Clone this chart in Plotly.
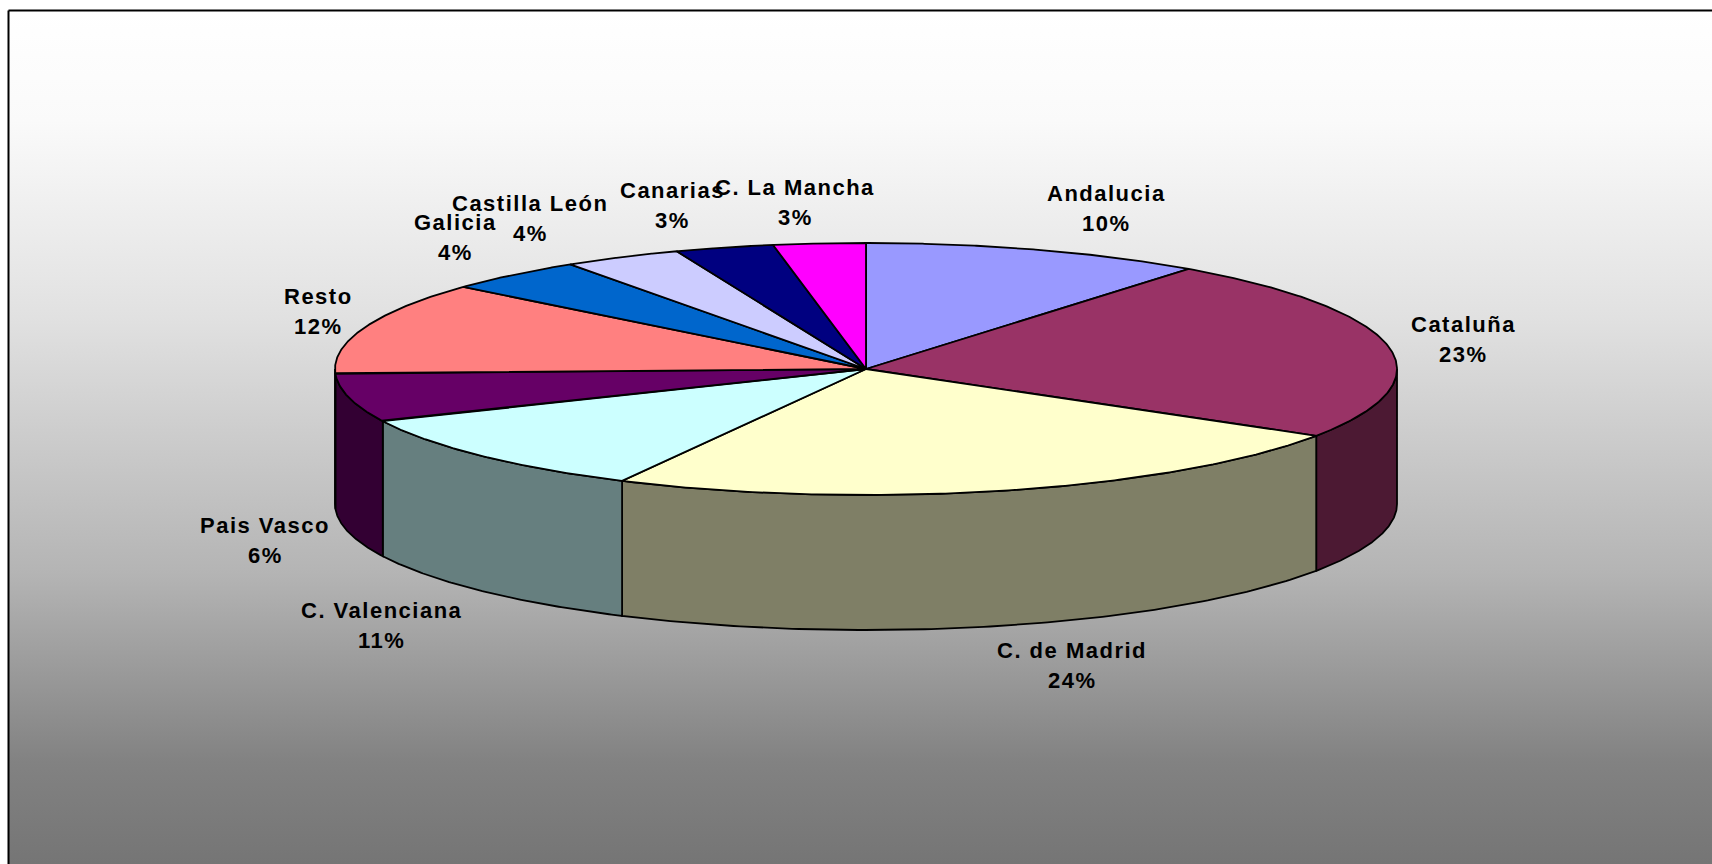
import numpy as np
import plotly.graph_objects as go

# ---------------- data ----------------
REGIONS = ["Andalucia", "Cataluña", "C. de Madrid", "C. Valenciana", "Pais Vasco",
           "Resto", "Galicia", "Castilla León", "Canarias", "C. La Mancha"]
VALUES = [10.4, 23.49, 23.7, 10.6, 6.2, 11.9, 4.3, 3.6, 3.0, 2.8]
COLORS = ["#9999FF", "#993366", "#FFFFCC", "#CCFFFF", "#660066",
          "#FF8080", "#0066CC", "#CCCCFF", "#000080", "#FF00FF"]

# ---------------- layout constants (pixels) ----------------
W, H = 1712, 864
CX, CY, RX, RY, DEPTH = 866, 369, 531, 126, 135
LABEL_POS = [(1106, 208), (1463, 339), (1072, 665), (381, 625), (265, 540),
             (318, 311), (455, 237), (530, 218), (672, 205), (795, 202)]
LINE_GAP = 15
FONT = dict(family="Liberation Sans, Arial, sans-serif", size=22, color="#000000", weight="bold")


def darker(hexc, f=0.5):
    h = hexc.lstrip("#")
    r, g, b = int(h[0:2], 16), int(h[2:4], 16), int(h[4:6], 16)
    return f"rgb({int(r * f)},{int(g * f)},{int(b * f)})"


total = float(sum(VALUES))
fracs = np.array(VALUES) / total
cum = np.concatenate([[0.0], np.cumsum(fracs)]) * 2 * np.pi

fig = go.Figure()

# background with vertical gradient and frame
fig.add_trace(go.Scatter(
    x=[8.5, W + 20, W + 20, 8.5, 8.5], y=[10.5, 10.5, H + 20, H + 20, 10.5],
    mode="lines", fill="toself", line=dict(color="#000000", width=2),
    fillgradient=dict(type="vertical", start=10, stop=H,
                      colorscale=[[0, "#ffffff"], [0.13, "#fafafa"], [0.36, "#e1e1e1"],
                                  [0.66, "#b4b4b4"], [0.88, "#828282"], [1, "#757575"]]),
    hoverinfo="skip", showlegend=False))

# side walls (visible front half: 90deg .. 270deg clockwise from top)
lo, hi = np.pi / 2, 3 * np.pi / 2
for i in range(len(VALUES)):
    s, e = max(cum[i], lo), min(cum[i + 1], hi)
    if e <= s:
        continue
    th = np.linspace(s, e, 120)
    xt = CX + RX * np.sin(th)
    yt = CY - RY * np.cos(th)
    xs = np.concatenate([xt, xt[::-1], xt[:1]])
    ys = np.concatenate([yt, yt[::-1] + DEPTH, yt[:1]])
    fig.add_trace(go.Scatter(x=xs, y=ys, mode="lines", fill="toself",
                             fillcolor=darker(COLORS[i]),
                             line=dict(color="#000000", width=1.8),
                             hoverinfo="skip", showlegend=False))

# top faces
for i in range(len(VALUES)):
    th = np.linspace(cum[i], cum[i + 1], 160)
    xt = CX + RX * np.sin(th)
    yt = CY - RY * np.cos(th)
    xs = np.concatenate([[CX], xt, [CX]])
    ys = np.concatenate([[CY], yt, [CY]])
    fig.add_trace(go.Scatter(x=xs, y=ys, mode="lines", fill="toself",
                             fillcolor=COLORS[i],
                             line=dict(color="#000000", width=1.8),
                             hoverinfo="skip", showlegend=False))

# labels
for i, name in enumerate(REGIONS):
    lx, ly = LABEL_POS[i]
    pct = f"{int(round(VALUES[i] / total * 100))}%"
    for txt, yy in ((name, ly - LINE_GAP), (pct, ly + LINE_GAP)):
        fig.add_annotation(x=lx, y=yy, xref="x", yref="y", showarrow=False,
                           text=f'<span style="letter-spacing:1.5px">{txt}</span>',
                           xanchor="center", yanchor="middle", font=FONT)

fig.update_layout(
    width=W, height=H, margin=dict(l=0, r=0, t=0, b=0),
    paper_bgcolor="#ffffff", plot_bgcolor="#ffffff",
    xaxis=dict(range=[0, W], visible=False, fixedrange=True),
    yaxis=dict(range=[H, 0], visible=False, fixedrange=True),
    showlegend=False,
)

fig.write_html("out.html", config={"displayModeBar": False},
               post_script="document.body.style.margin='0';document.body.style.overflow='hidden';")
